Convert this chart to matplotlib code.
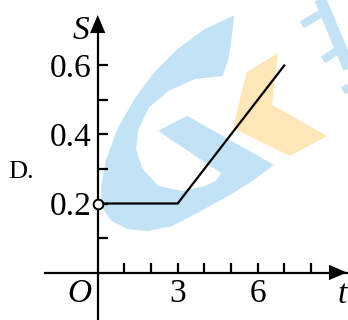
import matplotlib
matplotlib.use("Agg")
import matplotlib.pyplot as plt
from matplotlib.patches import Polygon
from matplotlib.transforms import Affine2D

# chart data
t_pts = [0, 3, 7]
s_pts = [0.2, 0.2, 0.6]
x_ticks = [1, 2, 3, 4, 5, 6, 7, 8]
y_ticks = [0.1, 0.2, 0.3, 0.4, 0.5, 0.6]
x_labels = {3: "3", 6: "6"}
y_labels = {0.2: "0.2", 0.4: "0.4", 0.6: "0.6"}

# watermark outlines, in picture pixels (origin top-left)
wm_g = [(233, 17), (205, 30), (178, 50), (155, 73), (135, 100), (118, 130),
        (107, 160), (102, 187), (103, 207), (112, 220), (128, 228),
        (148, 230), (172, 225), (195, 213), (228, 195), (252, 180),
        (272, 165), (187, 117), (160, 131), (223, 173), (216, 182),
        (205, 187), (182, 192), (158, 187), (142, 170), (135, 150),
        (137, 130), (148, 107), (168, 90), (195, 78), (222, 75),
        (227, 60), (230, 43)]
wm_arrow = [(247, 72), (278, 53), (272, 105), (327, 136), (290, 156),
            (233, 128), (244, 82)]
wm_bars = [((318, -6), (353, 78), 12), ((302, 25), (320, 14), 8),
           ((323, 60), (338, 50), 8), ((343, 91), (352, 85), 8)]

W, H = 348, 320
X0, XS = 97.7, 26.65     # pixel of t=0, pixels per unit t
Y0, YS = 272.5, 345.0    # pixel of S=0, pixels per unit S
SERIF = "Liberation Serif"
LW = 1.6

fig = plt.figure(figsize=(W / 100, H / 100), dpi=100)
ax = fig.add_axes([0, 0, 1, 1])
ax.set_xlim(-X0 / XS, (W - X0) / XS)
ax.set_ylim((Y0 - H) / YS, Y0 / YS)
ax.patch.set_visible(False)

px = Affine2D().scale(1 / W, -1 / H).translate(0, 1) + fig.transFigure
blue, orange = "#c2e2f6", "#fde6b8"
ax.add_patch(Polygon(wm_g, closed=True, fc=blue, ec=blue, lw=1.5,
                     joinstyle="round", transform=px, zorder=0))
ax.add_patch(Polygon(wm_arrow, closed=True, fc=orange, ec="none", transform=px, zorder=0))
for (a, b, w) in wm_bars:
    ax.plot([a[0], b[0]], [a[1], b[1]], color=blue, lw=w * 0.72,
            solid_capstyle="butt", transform=px, zorder=0)

# axes through the origin
for side in ("top", "right"):
    ax.spines[side].set_visible(False)
for side in ("left", "bottom"):
    ax.spines[side].set_position(("data", 0))
    ax.spines[side].set_linewidth(LW)
ax.spines["bottom"].set_bounds(-52.7 / XS, (W - 1 - X0) / XS)
ax.spines["left"].set_bounds((Y0 - H) / YS, (Y0 - 20) / YS)
ax.set_xticks(x_ticks)
ax.set_yticks(y_ticks)
ax.set_xticklabels([])
ax.set_yticklabels([])
ax.tick_params(direction="in", length=7.2, width=LW, color="black")

head = "-|>,head_length=1.3,head_width=0.55"
ax.annotate("", xy=((W - 1 - X0) / XS, 0), xytext=((W - 30 - X0) / XS, 0),
            arrowprops=dict(arrowstyle=head, color="black", lw=0,
                            shrinkA=0, shrinkB=0), annotation_clip=False)
ax.annotate("", xy=(0, (Y0 - 15) / YS), xytext=(0, (Y0 - 45) / YS),
            arrowprops=dict(arrowstyle=head, color="black", lw=0,
                            shrinkA=0, shrinkB=0), annotation_clip=False)

# the graph
ax.plot(t_pts, s_pts, color="black", lw=LW, zorder=3, solid_joinstyle="miter")
ax.plot(t_pts[0], s_pts[0], "o", ms=7, mfc="white", mec="black", mew=1.4, zorder=4)

# labels
fs = 24
for v, lbl in y_labels.items():
    ax.annotate(lbl, xy=(0, v), xytext=(-6, -11.5), textcoords="offset pixels",
                ha="right", va="baseline", fontsize=fs, family=SERIF)
for v, lbl in x_labels.items():
    ax.annotate(lbl, xy=(v, 0), xytext=(0, -29.5), textcoords="offset pixels",
                ha="center", va="baseline", fontsize=fs, family=SERIF)
ax.annotate("O", xy=(0, 0), xytext=(-18, -29.5), textcoords="offset pixels",
            ha="center", va="baseline", fontsize=fs, family=SERIF, style="italic")
ax.annotate("t", xy=((W - X0) / XS, 0), xytext=(-6, -30.5), textcoords="offset pixels",
            ha="center", va="baseline", fontsize=fs, family=SERIF, style="italic")
ax.annotate("S", xy=(0, (Y0 - 39) / YS), xytext=(-17, 0), textcoords="offset pixels",
            ha="center", va="baseline", fontsize=fs, family=SERIF, style="italic")
ax.text(8, 178, "D.", transform=px, ha="left", va="baseline", fontsize=19, family=SERIF)

fig.savefig("out.png", dpi=100)
